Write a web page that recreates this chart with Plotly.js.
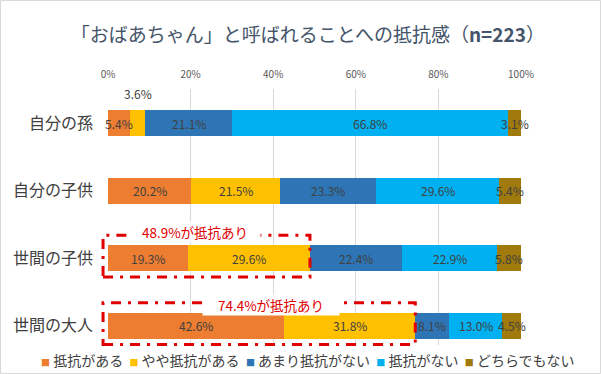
<!DOCTYPE html>
<html>
<head>
<meta charset="utf-8">
<script src="https://cdn.plot.ly/plotly-3.0.1.min.js"></script>
<style>
  html, body { margin: 0; padding: 0; background: #fff; }
  #chart { width: 601px; height: 374px; }
</style>
</head>
<body>
<div id="chart"></div>
<script>
// ---- data ----
const categories = ['自分の孫', '自分の子供', '世間の子供', '世間の大人'];
const seriesNames = ['抵抗がある', 'やや抵抗がある', 'あまり抵抗がない', '抵抗がない', 'どちらでもない'];
const resistYes      = [5.4, 20.2, 19.3, 42.6];
const resistSomewhat = [3.6, 21.5, 29.6, 31.8];
const resistLittle   = [21.1, 23.3, 22.4, 8.1];
const resistNone     = [66.8, 29.6, 22.9, 13.0];
const resistNeither  = [3.1, 5.4, 5.8, 4.5];
const tickValues = [0, 20, 40, 60, 80, 100];
const tickLabels = ['0%', '20%', '40%', '60%', '80%', '100%'];
const titleText = '「おばあちゃん」と呼ばれることへの抵抗感（<b>n=223</b>）';
const highlightCats = ['世間の子供', '世間の大人'];
const outsideLabel = { category: '自分の孫', series: 1 };

// ---- styling ----
const colors = ['#ED7D31', '#FFC000', '#2E75B6', '#00B0F0', '#A07A0C'];
const FONT = '"Noto Sans CJK JP", "Noto Sans", sans-serif';
const seriesData = [resistYes, resistSomewhat, resistLittle, resistNone, resistNeither];
const X_RANGE = [0, 100];
const Y_RANGE = [3.284, -0.508];

const fmt = v => v.toFixed(1) + '%';

const traces = seriesData.map((vals, s) => ({
  type: 'bar',
  orientation: 'h',
  name: seriesNames[s],
  y: categories,
  x: vals,
  width: 0.39,
  marker: { color: colors[s], line: { width: 0 } },
  hoverinfo: 'skip',
  showlegend: false
}));

const xd = v => (v - X_RANGE[0]) / (X_RANGE[1] - X_RANGE[0]);
const yd = v => (Y_RANGE[0] - v) / (Y_RANGE[0] - Y_RANGE[1]);

const shapes = [];
const annotations = [];

// value labels centred on each segment
categories.forEach((cat, i) => {
  let start = 0;
  seriesData.forEach((vals, s) => {
    const v = vals[i];
    const isOutside = (cat === outsideLabel.category && s === outsideLabel.series);
    annotations.push({
      xref: 'x', yref: 'y', x: start + v / 2, y: cat,
      yshift: isOutside ? 30 : 0,
      text: fmt(v), showarrow: false,
      font: { family: FONT, size: 12, color: '#404040' }
    });
    start += v;
  });
});

// dashed highlight boxes and their labels
highlightCats.forEach((cat, k) => {
  const i = categories.indexOf(cat);
  const sum = resistYes[i] + resistSomewhat[i];
  shapes.push({
    type: 'rect', xref: 'x domain', yref: 'y domain',
    x0: xd(-1.2), x1: xd(sum),
    y0: yd(i + 0.275), y1: yd(i - 0.34),
    line: { color: '#E00000', width: 3, dash: '10px,7px,3px,7px' },
    fillcolor: 'rgba(0,0,0,0)', layer: 'above'
  });
  annotations.push({
    xref: 'x', yref: 'y',
    x: k === 0 ? sum * 0.43 : sum * 0.53,
    y: cat,
    yshift: k === 0 ? 26 : 21,
    text: sum.toFixed(1) + '%が抵抗あり',
    showarrow: false,
    font: { family: FONT, size: 13.5, color: '#E00000' },
    bgcolor: '#FFFFFF',
    width: k === 0 ? 128 : 134,
    height: 18,
    align: 'center'
  });
});

// legend row (squares + names)
const legendText = seriesNames.map((n, s) =>
  '<span style="color:' + colors[s] + ';font-size:9px">■</span> ' + n
).join('  ');
annotations.push({
  xref: 'paper', yref: 'paper', x: 0.484, y: -0.0586,
  xanchor: 'center', yanchor: 'middle',
  text: legendText, showarrow: false,
  font: { family: FONT, size: 14, color: '#404040' }
});

// outer light border
const L = 108, T = 89, W = 413, H = 256;
shapes.push({
  type: 'rect', xref: 'paper', yref: 'paper',
  x0: (0.5 - L) / W, x1: (600.5 - L) / W,
  y0: (T + H - 373.5) / H, y1: (T + H - 0.5) / H,
  line: { color: '#D9D9D9', width: 1 }, fillcolor: 'rgba(0,0,0,0)', layer: 'below'
});

const layout = {
  width: 601, height: 374,
  margin: { l: 108, r: 80, t: 89, b: 29, pad: 0 },
  paper_bgcolor: '#FFFFFF', plot_bgcolor: '#FFFFFF',
  barmode: 'stack',
  showlegend: false,
  font: { family: FONT, color: '#404040' },
  title: {
    text: titleText,
    font: { family: FONT, size: 19, color: '#44546A' },
    xref: 'paper', x: 0.484, xanchor: 'center',
    yref: 'container', y: 1 - 35 / 374, yanchor: 'middle'
  },
  xaxis: {
    side: 'top',
    range: X_RANGE,
    tickvals: tickValues, ticktext: tickLabels,
    showgrid: true, gridcolor: '#D9D9D9', gridwidth: 1,
    zeroline: false, showline: false, ticks: '',
    ticklabelstandoff: 8,
    tickfont: { family: FONT, size: 10, color: '#595959' },
    fixedrange: true
  },
  yaxis: {
    type: 'category',
    categoryorder: 'array', categoryarray: categories,
    range: Y_RANGE,
    showgrid: false, zeroline: false, showline: false, ticks: '',
    ticklabelstandoff: 14,
    tickfont: { family: FONT, size: 16, color: '#404040' },
    fixedrange: true
  },
  shapes: shapes,
  annotations: annotations
};

Plotly.newPlot('chart', traces, layout, { staticPlot: true, displayModeBar: false });
</script>
</body>
</html>
